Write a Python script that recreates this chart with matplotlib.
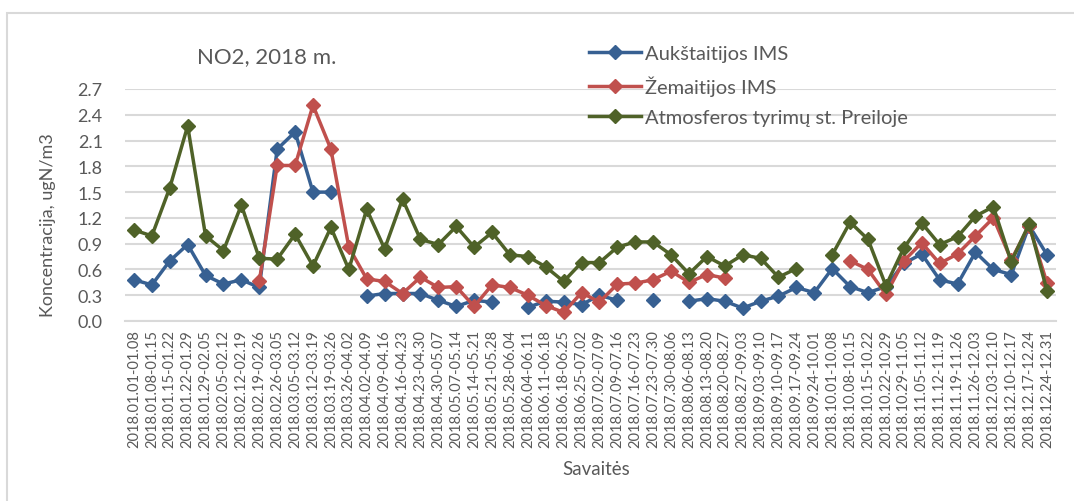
import numpy as np
import matplotlib
matplotlib.use("Agg")
import matplotlib.pyplot as plt
from matplotlib.patches import Rectangle

nan = np.nan

weeks = ["2018.01.01-01.08", "2018.01.08-01.15", "2018.01.15-01.22", "2018.01.22-01.29",
         "2018.01.29-02.05", "2018.02.05-02.12", "2018.02.12-02.19", "2018.02.19-02.26",
         "2018.02.26-03.05", "2018.03.05-03.12", "2018.03.12-03.19", "2018.03.19-03.26",
         "2018.03.26-04.02", "2018.04.02-04.09", "2018.04.09-04.16", "2018.04.16-04.23",
         "2018.04.23-04.30", "2018.04.30-05.07", "2018.05.07-05.14", "2018.05.14-05.21",
         "2018.05.21-05.28", "2018.05.28-06.04", "2018.06.04-06.11", "2018.06.11-06.18",
         "2018.06.18-06.25", "2018.06.25-07.02", "2018.07.02-07.09", "2018.07.09-07.16",
         "2018.07.16-07.23", "2018.07.23-07.30", "2018.07.30-08.06", "2018.08.06-08.13",
         "2018.08.13-08.20", "2018.08.20-08.27", "2018.08.27-09.03", "2018.09.03-09.10",
         "2018.09.10-09.17", "2018.09.17-09.24", "2018.09.24-10.01", "2018.10.01-10.08",
         "2018.10.08-10.15", "2018.10.15-10.22", "2018.10.22-10.29", "2018.10.29-11.05",
         "2018.11.05-11.12", "2018.11.12-11.19", "2018.11.19-11.26", "2018.11.26-12.03",
         "2018.12.03-12.10", "2018.12.10-12.17", "2018.12.17-12.24", "2018.12.24-12.31"]

aukstaitija = [0.48, 0.42, 0.70, 0.89, 0.53, 0.43, 0.48, 0.39, 2.00, 2.20, 1.50, 1.50,
               nan, 0.29, 0.32, 0.32, 0.32, 0.24, 0.17, 0.24, 0.22, nan, 0.16, 0.23,
               0.22, 0.19, 0.30, 0.24, nan, 0.24, nan, 0.23, 0.26, 0.23, 0.15, 0.23,
               0.29, 0.39, 0.33, 0.61, 0.40, 0.33, 0.40, 0.67, 0.78, 0.48, 0.43, 0.80,
               0.60, 0.54, 1.11, 0.77]

zemaitija = [nan, nan, nan, nan, nan, nan, nan, 0.46, 1.81, 1.81, 2.51, 2.00,
             0.86, 0.49, 0.46, 0.32, 0.51, 0.39, 0.40, 0.17, 0.42, 0.39, 0.30, 0.18,
             0.10, 0.33, 0.22, 0.43, 0.44, 0.48, 0.58, 0.45, 0.54, 0.50, nan, nan,
             nan, nan, nan, nan, 0.70, 0.60, 0.31, 0.70, 0.91, 0.67, 0.78, 0.99,
             1.20, 0.71, 1.11, 0.44]

preila = [1.06, 0.99, 1.55, 2.27, 0.99, 0.82, 1.35, 0.73, 0.72, 1.01, 0.64, 1.09,
          0.60, 1.30, 0.84, 1.42, 0.95, 0.89, 1.10, 0.86, 1.03, 0.77, 0.75, 0.63,
          0.46, 0.68, 0.68, 0.86, 0.92, 0.92, 0.77, 0.55, 0.75, 0.64, 0.77, 0.73,
          0.51, 0.61, nan, 0.77, 1.15, 0.95, 0.41, 0.85, 1.14, 0.89, 0.98, 1.22,
          1.33, 0.69, 1.13, 0.35]

yticks = [0.0, 0.3, 0.6, 0.9, 1.2, 1.5, 1.8, 2.1, 2.4, 2.7]

plt.rcParams['font.family'] = ['Lato', 'DejaVu Sans']
txt = '#595959'

fig = plt.figure(figsize=(10.74, 5.02), dpi=100)
ax = fig.add_axes([125/1074, 1 - 322/502, (1056 - 125)/1074, (322 - 90)/502])

# outer chart border (runs off the right and bottom edges)
fig.patches.append(Rectangle((7/1074, -0.1), 1.2, 1 - 14/502 + 0.1, transform=fig.transFigure,
                             fill=False, edgecolor='#D9D9D9', linewidth=1.5))

x = np.arange(len(weeks))
series = [(aukstaitija, '#376092', 'Aukštaitijos IMS'),
          (zemaitija, '#C0504D', 'Žemaitijos IMS'),
          (preila, '#4F6228', 'Atmosferos tyrimų st. Preiloje')]
for vals, col, lab in series:
    ax.plot(x, vals, color=col, linewidth=2.5, marker='D', markersize=7.5,
            label=lab, zorder=3)

ax.set_xlim(-0.5, len(weeks) - 0.5)
ax.set_ylim(0, 2.7)
ax.set_yticks(yticks)
ax.set_yticklabels([f'{v:.1f}' for v in yticks], fontsize=13, color=txt)
ax.set_xticks(x)
ax.set_xticklabels(weeks, rotation=90, fontsize=10.5, color=txt)
ax.tick_params(axis='x', length=0, pad=6)
ax.tick_params(axis='y', length=0, pad=16)
ax.yaxis.grid(True, color='#D9D9D9', linewidth=1.5, zorder=0)
ax.set_axisbelow(True)
for s in ['top', 'right', 'left']:
    ax.spines[s].set_visible(False)
ax.spines['bottom'].set_color('#D9D9D9')
ax.spines['bottom'].set_linewidth(1.5)

fig.text(267/1074, 1 - 57/502, 'NO2, 2018 m.', fontsize=16, color=txt, ha='center', va='center')
fig.text(48/1074, 1 - 225/502, 'Koncentracija, ugN/m3', fontsize=13, color=txt,
         rotation=90, ha='center', va='center')
fig.text(596/1074, 1 - 470/502, 'Savaitės', fontsize=13.5, color=txt, ha='center', va='center')

leg = fig.legend(loc='upper left', bbox_to_anchor=(589/1074, 1 - 46/502), frameon=False,
                 fontsize=14.5, handlelength=2.6, handletextpad=0.2, labelspacing=0.65,
                 borderaxespad=0, borderpad=0)
for t in leg.get_texts():
    t.set_color(txt)

fig.savefig('out.png', dpi=100)
